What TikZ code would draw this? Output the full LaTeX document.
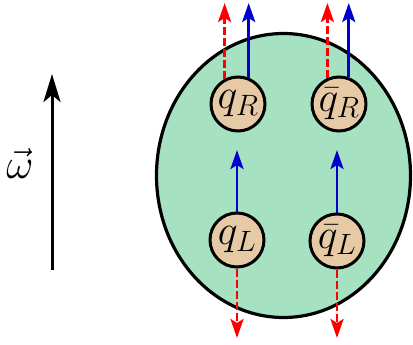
\RequirePackage{fix-cm}
\documentclass[tikz,border=0pt]{standalone}
\usetikzlibrary{shapes.geometric,arrows.meta}
\definecolor{blobgreen}{RGB}{166,226,194}
\definecolor{quarktan}{RGB}{230,202,165}
\definecolor{spinblue}{RGB}{0,0,204}
\begin{document}
\begin{tikzpicture}[x=1pt,y=-1pt,
  blob/.style={ellipse,draw=black,line width=3.2pt,fill=blobgreen,minimum width=254pt,minimum height=284pt,inner sep=0pt},
  quark/.style={circle,draw=black,line width=3pt,fill=quarktan,minimum size=54pt,inner sep=0pt,font=\fontsize{42}{42}\selectfont},
  spin/.style={line width=2.8pt,draw=spinblue,-{Stealth[length=19pt,width=13pt,inset=4pt]}},
  mom/.style={line width=2.8pt,draw=red,dash pattern=on 8pt off 3pt,-{Stealth[length=19pt,width=13pt,inset=4pt]}}]
\useasboundingbox (0,0) rectangle (413,345);
\node[blob] (hadron) at (283.5,175.5) {};
\node[quark] (qR) at (238,104) {$q_R$};
\node[quark] (qbR) at (339,104) {$\bar q_R$};
\node[quark] (qL) at (237,240) {$q_L$};
\node[quark] (qbL) at (337,241) {$\bar q_L$};
% top arrows
\coordinate (topA) at (0,3);
\draw[mom] (qR.118) -- (qR.118 |- topA);
\draw[spin] (qR.68) -- (qR.68 |- topA);
\draw[mom] (qbR.114) -- (qbR.114 |- topA);
\draw[spin] (qbR.70) -- (qbR.70 |- topA);
% bottom quarks
\coordinate (midA) at (0,150);
\coordinate (botA) at (0,338);
\draw[spin] (qL.north) -- (qL.north |- midA);
\draw[spin] (qbL.north) -- (qbL.north |- midA);
\draw[mom] (qL.south) -- (qL.south |- botA);
\draw[mom] (qbL.south) -- (qbL.south |- botA);
% omega
\coordinate (wbot) at (52,270);
\coordinate (wtop) at (52,74);
\draw[line width=3pt,-{Stealth[length=28pt,width=17pt,inset=7pt]}] (wbot) -- (wtop);
\node[font=\fontsize{42}{42}\selectfont] (omega) at (20,164) {$\vec{\omega}$};
\end{tikzpicture}
\end{document}
